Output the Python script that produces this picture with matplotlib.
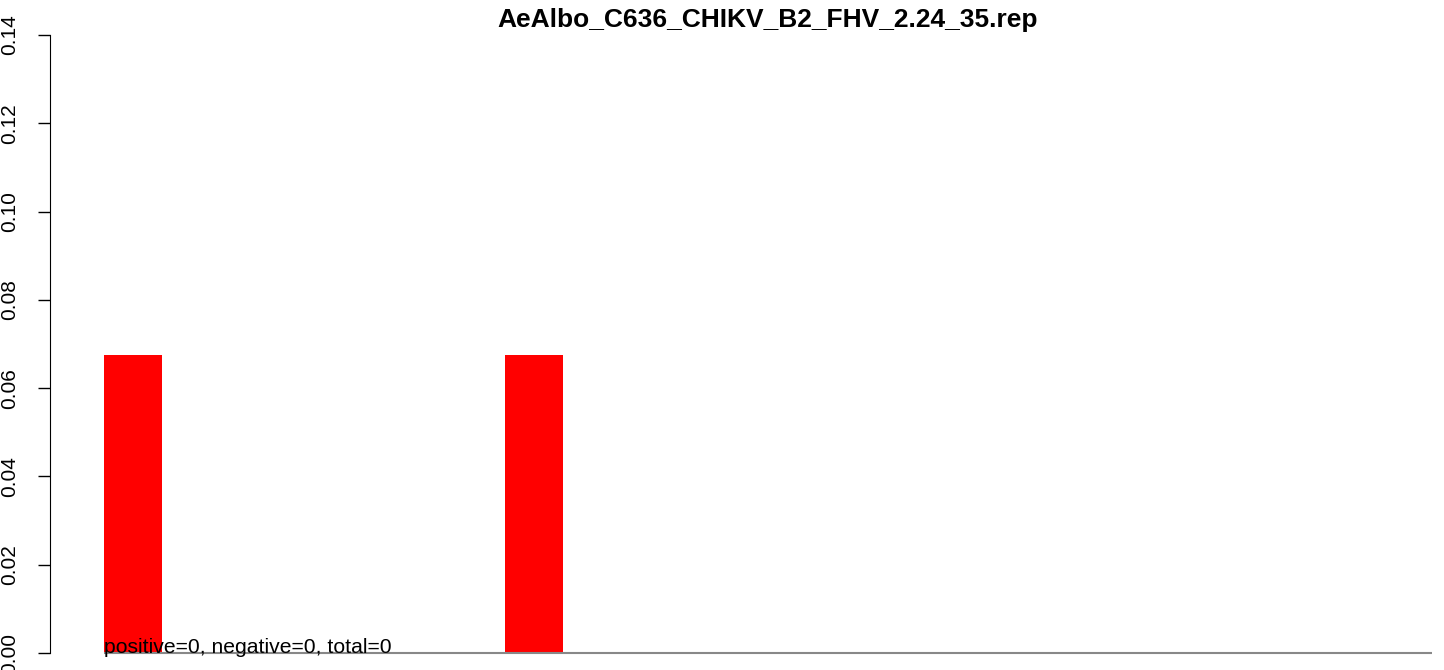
import numpy as np
import matplotlib
matplotlib.use("Agg")
import matplotlib.pyplot as plt

plt.rcParams["font.family"] = ["Liberation Sans", "DejaVu Sans"]

# read lengths and their frequencies
title = "AeAlbo_C636_CHIKV_B2_FHV_2.24_35.rep"
lengths = list(range(18, 38))
freq = [0.0675, 0, 0, 0, 0, 0, 0.0675, 0, 0, 0, 0, 0, 0, 0, 0, 0, 0, 0, 0, 0]
counts = {"positive": 0, "negative": 0, "total": 0}
yticks = [0.00, 0.02, 0.04, 0.06, 0.08, 0.10, 0.12, 0.14]

W, H = 1444, 670
fig = plt.figure(figsize=(W / 100, H / 100), dpi=100)
ax = fig.add_axes([50 / W, 17 / H, 1390 / W, 618 / H])

x = np.arange(len(lengths))
bw = 0.868
ax.bar(x, freq, width=bw, color="#FF0000", edgecolor="none")
ax.hlines(0, x[0] - bw / 2, x[-1] + bw / 2, color="#888888", lw=1.5, clip_on=False)

ax.set_xlim(-1.242, 19.555)
ax.set_ylim(0, 0.14)
ax.set_yticks(yticks)
ax.set_yticklabels([f"{v:.2f}" for v in yticks], rotation=90, va="center", fontsize=15)
ax.tick_params(axis="y", length=9, width=1, pad=13)
ax.set_xticks([])
for s in ["top", "right", "bottom"]:
    ax.spines[s].set_visible(False)
ax.spines["left"].set_bounds(0, 0.14)

txt = ", ".join(f"{k}={v}" for k, v in counts.items())
ax.text(x[0] - bw / 2, 0, txt, fontsize=15.2, ha="left", va="baseline")

fig.text(768 / W, 1 - 20 / H, title, fontsize=19, fontweight="bold", ha="center", va="center")

fig.savefig("out.png", dpi=100)
